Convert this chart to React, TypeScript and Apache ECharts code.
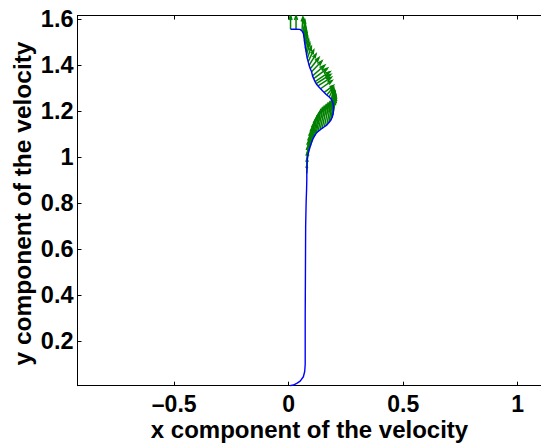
import React, { useEffect, useRef } from "react";
import * as echarts from "echarts";

// Curve points (x component, y component) and quiver vectors (u, v)
const X = [0.006, 0.02, 0.035, 0.05, 0.064, 0.07, 0.072, 0.072, 0.073, 0.074, 0.076, 0.078, 0.079,
  0.079, 0.08, 0.08, 0.081, 0.083, 0.086, 0.09, 0.095, 0.1, 0.106, 0.113, 0.12, 0.128, 0.137, 0.146, 0.156, 0.166,
  0.175, 0.183, 0.189, 0.193, 0.195, 0.196, 0.195, 0.192, 0.186, 0.177, 0.166, 0.155, 0.139, 0.128, 0.12, 0.115,
  0.109, 0.104, 0.1, 0.094, 0.089, 0.085, 0.081, 0.078, 0.076, 0.073, 0.071, 0.069, 0.067, 0.064, 0.058, 0.049,
  0.032, 0.008];
const Y = [0.007, 0.01, 0.017, 0.027, 0.046, 0.07, 0.1, 0.3, 0.5, 0.7, 0.8, 0.86, 0.9,
  0.93, 0.95, 0.97, 0.988, 1.005, 1.02, 1.035, 1.05, 1.065, 1.08, 1.093, 1.104, 1.112, 1.119, 1.126, 1.133, 1.14,
  1.15, 1.16, 1.172, 1.185, 1.198, 1.212, 1.226, 1.24, 1.252, 1.262, 1.271, 1.282, 1.298, 1.31, 1.32, 1.329,
  1.342, 1.354, 1.372, 1.385, 1.4, 1.416, 1.43, 1.445, 1.459, 1.475, 1.49, 1.503, 1.52, 1.539, 1.55, 1.556,
  1.557, 1.557];
const U = [0, 0, 0, 0, 0, 0, 0, 0, 0, 0, 0, 0, 0,
  0, 0, 0.002, 0.004, 0.006, 0.008, 0.01, 0.012, 0.015, 0.018, 0.02, 0.021, 0.022, 0.022, 0.022, 0.021, 0.02,
  0.018, 0.016, 0.013, 0.01, 0.008, 0.006, 0.005, 0.006, 0.01, 0.018, 0.028, 0.04, 0.05, 0.058, 0.063, 0.065,
  0.06, 0.053, 0.045, 0.038, 0.03, 0.024, 0.018, 0.014, 0.011, 0.009, 0.008, 0.007, 0.006, 0.006, 0.004, 0,
  0, 0];
const V = [0, 0, 0, 0, 0, 0, 0, 0, 0, 0, 0, 0, 0,
  0.035, 0.045, 0.055, 0.065, 0.072, 0.078, 0.085, 0.09, 0.095, 0.1, 0.1, 0.105, 0.105, 0.105, 0.105, 0.105, 0.105,
  0.1, 0.1, 0.095, 0.09, 0.085, 0.075, 0.065, 0.055, 0.045, 0.038, 0.032, 0.03, 0.035, 0.038, 0.04, 0.043,
  0.045, 0.046, 0.047, 0.048, 0.049, 0.05, 0.051, 0.052, 0.053, 0.054, 0.055, 0.056, 0.057, 0.06, 0.06, 0,
  0.06, 0.06];

const X_TICKS = [-0.5, 0, 0.5, 1];
const Y_TICKS = [0.2, 0.4, 0.6, 0.8, 1, 1.2, 1.4, 1.6];
const X_MIN = -0.9223;
const X_MAX = 1.1017;
const Y_MIN = 0.007;
const Y_MAX = 1.6165;

const fmt = (v: number) => (v < 0 ? "\u2013" + String(Math.abs(v)) : String(v));

export default function App() {
  const ref = useRef<HTMLDivElement>(null);
  useEffect(() => {
    if (!ref.current) return;
    const chart = echarts.init(ref.current, undefined, { renderer: "svg" });
    const lineData = X.map((x, i) => [x, Y[i]]);
    const quiverData = X.map((x, i) => [x, Y[i], U[i], V[i]]);
    const font = "Liberation Sans, Arial, Helvetica, sans-serif";
    const axisLine = { show: true, onZero: false, lineStyle: { color: "#000", width: 1 } };
    chart.setOption({
      animation: false,
      backgroundColor: "#fff",
      grid: { left: 77.5, top: 15.5, right: 0, height: 370.2, containLabel: false },
      xAxis: [
        {
          type: "value", min: X_MIN, max: X_MAX, position: "bottom",
          axisLine, splitLine: { show: false },
          axisTick: { show: true, inside: true, length: 4, customValues: X_TICKS, lineStyle: { color: "#000" } },
          axisLabel: { show: true, customValues: X_TICKS, formatter: fmt, margin: 7, color: "#000",
            fontSize: 23, lineHeight: 23, fontWeight: "bold", fontFamily: font },
        },
        {
          type: "value", min: X_MIN, max: X_MAX, position: "top",
          axisLine, splitLine: { show: false },
          axisTick: { show: true, inside: true, length: 4, customValues: X_TICKS, lineStyle: { color: "#000" } },
          axisLabel: { show: false },
        },
      ],
      yAxis: [
        {
          type: "value", min: Y_MIN, max: Y_MAX, position: "left",
          axisLine, splitLine: { show: false },
          axisTick: { show: true, inside: true, length: 4, customValues: Y_TICKS, lineStyle: { color: "#000" } },
          axisLabel: { show: true, customValues: Y_TICKS, formatter: fmt, margin: 4, color: "#000",
            fontSize: 23.5, lineHeight: 23, fontWeight: "bold", fontFamily: font },
        },
      ],
      graphic: [
        {
          type: "text", x: 309.5, y: 429,
          style: { text: "x component of the velocity", fill: "#000", font: `bold 24px ${font}`,
            lineHeight: 24, textAlign: "center", textVerticalAlign: "middle" },
        },
        {
          type: "text", x: 22.5, y: 203.5, rotation: Math.PI / 2,
          style: { text: "y component of the velocity", fill: "#000", font: `bold 24.5px ${font}`,
            lineHeight: 24, textAlign: "center", textVerticalAlign: "middle" },
        },
      ],
      series: [
        {
          type: "custom",
          clip: true,
          xAxisIndex: 0,
          yAxisIndex: 0,
          encode: { x: 0, y: 1 },
          data: quiverData,
          z: 2,
          renderItem: (params: any, api: any) => {
            const x = api.value(0), y = api.value(1), u = api.value(2), v = api.value(3);
            if (!u && !v) return { type: "group", children: [] };
            const p0 = api.coord([x, y]);
            const p1 = api.coord([x + u, y + v]);
            const dx = p1[0] - p0[0], dy = p1[1] - p0[1];
            const a = 0.33, b = 0.33;
            const h1 = [p1[0] - a * (dx + b * dy), p1[1] - a * (dy - b * dx)];
            const h2 = [p1[0] - a * (dx - b * dy), p1[1] - a * (dy + b * dx)];
            const style = { stroke: "#008000", lineWidth: 1.5, fill: "none" };
            return {
              type: "group",
              children: [
                { type: "line", shape: { x1: p0[0], y1: p0[1], x2: p1[0], y2: p1[1] }, style },
                { type: "polyline", shape: { points: [h1, p1, h2] }, style },
              ],
            };
          },
        },
        {
          type: "line",
          data: lineData,
          showSymbol: false,
          symbol: "none",
          z: 3,
          clip: true,
          lineStyle: { color: "#0000ff", width: 1.4 },
        },
      ],
    });
    return () => chart.dispose();
  }, []);
  return (
    <div ref={ref} style={{ position: "fixed", left: 0, top: 0, width: 541, height: 445, background: "#fff" }} />
  );
}
